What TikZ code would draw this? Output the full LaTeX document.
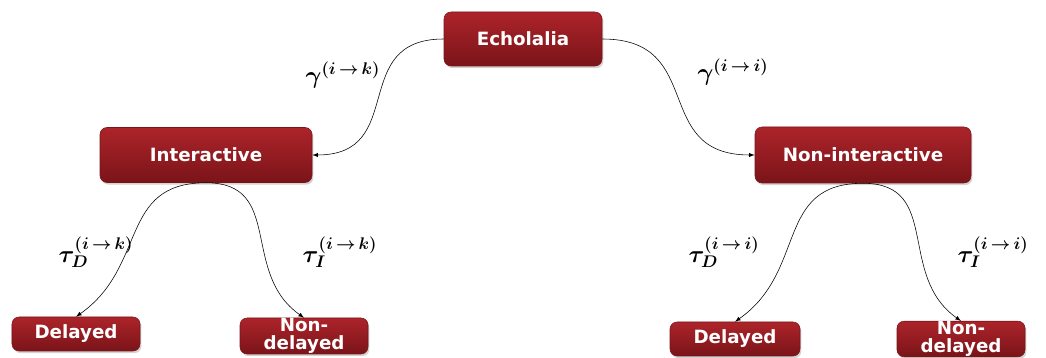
\documentclass[tikz,border=0pt]{standalone}
\usepackage{fontspec}
\setsansfont{DejaVu Sans}
\usetikzlibrary{shadows}
\definecolor{boxtop}{RGB}{172,36,42}
\definecolor{boxbot}{RGB}{122,20,25}
\tikzset{my box/.style={rounded corners=5pt, top color=boxtop, bottom color=boxbot, draw=boxbot,
  text=white, font=\sffamily\bfseries\fontsize{13}{13}\selectfont, align=center, inner sep=0pt,
  drop shadow={opacity=0.35, shadow xshift=1pt, shadow yshift=-1.5pt}},
  my label/.style={font=\fontsize{17}{17}\selectfont\boldmath},
  my arc/.style={->, >=latex, thin},}

\begin{document}
\begin{tikzpicture}
\useasboundingbox (0,0) rectangle (26.15,8.95);
\node [my box,minimum width=3.95cm,minimum height=1.35cm] (echo) at ( 13.075, 7.975) {Echolalia};
\node [my box,minimum width=5.30cm,minimum height=1.375cm] (inter) at (  5.150, 5.075) {Interactive};
\node [my box,minimum width=5.40cm,minimum height=1.40cm] (noninter) at ( 21.575, 5.075) {Non-interactive};
\node [my box,minimum width=3.20cm,minimum height=0.85cm] (delL) at (  1.900, 0.600) {Delayed};
\node [my box,minimum width=3.20cm,minimum height=0.90cm] (nodelL) at (  7.600, 0.550) {Non-\\delayed};
\node [my box,minimum width=3.25cm,minimum height=0.85cm] (delR) at ( 18.375, 0.475) {Delayed};
\node [my box,minimum width=3.20cm,minimum height=0.85cm] (nodelR) at ( 24.025, 0.475) {Non-\\delayed};
% transition labels
\node [my label] (gik) at (  8.575, 7.075) {$\gamma^{(i\,\rightarrow\, k)}$};
\node [my label] (gii) at ( 18.325, 7.150) {$\gamma^{(i\,\rightarrow\, i)}$};
\node [my label] (tdk) at (  2.400, 2.650) {$\tau_D^{(i\,\rightarrow\, k)}$};
\node [my label] (tik) at (  8.500, 2.650) {$\tau_I^{(i\,\rightarrow\, k)}$};
\node [my label] (tdi) at ( 18.100, 2.650) {$\tau_D^{(i\,\rightarrow\, i)}$};
\node [my label] (tii) at ( 24.825, 2.650) {$\tau_I^{(i\,\rightarrow\, i)}$};
% arcs
\draw [my arc] (echo.west) to[out=180,in=0,looseness=1.4] (inter.east);
\draw [my arc] (echo.east) to[out=0,in=180,looseness=1.4] (noninter.west);
\draw [my arc] (inter.south) to[out=180,in=35,looseness=1.2] (delL.north);
\draw [my arc] (inter.south) to[out=0,in=145,looseness=1.2] (nodelL.north);
\draw [my arc] (noninter.south) to[out=180,in=35,looseness=1.2] (delR.north);
\draw [my arc] (noninter.south) to[out=0,in=145,looseness=1.2] (nodelR.north);
\end{tikzpicture}
\end{document}
